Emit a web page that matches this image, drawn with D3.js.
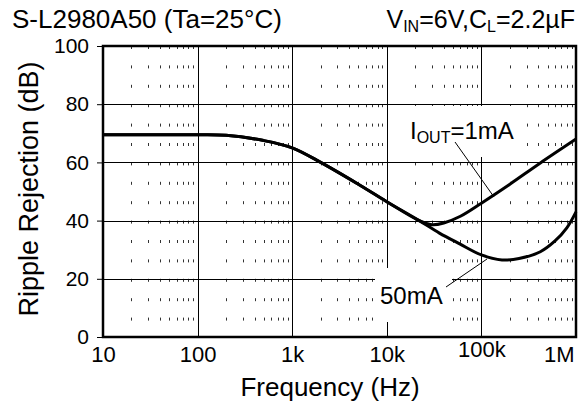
<!DOCTYPE html>
<html>
<head>
<meta charset="utf-8">
<script src="https://cdn.jsdelivr.net/npm/d3@7"></script>
<style>
  html, body { margin: 0; padding: 0; background: #fff; }
  svg { display: block; font-family: "Liberation Sans", Arial, Helvetica, sans-serif; }
</style>
</head>
<body>
<svg id="chart" width="588" height="411"></svg>
<script>
// Ripple rejection vs. frequency, two load currents
const freq1mA = [10, 100, 200, 500, 1000, 2000, 5000, 10000, 22000, 30000, 40000, 60000, 100000, 200000, 420000, 1000000];
const rr1mA   = [69.5, 69.5, 69.3, 67.5, 65, 60, 52.5, 46.5, 40, 38.6, 39.2, 41.5, 46, 52.5, 59.8, 68];

const freq50mA = [10, 100, 200, 500, 1000, 2000, 5000, 10000, 22000, 36000, 59000, 100000, 165000, 250000, 420000, 600000, 800000, 1000000];
const rr50mA   = [69.5, 69.5, 69.3, 67.5, 65, 60, 52.5, 46.5, 40, 35.7, 32, 28.2, 26.5, 27, 29.3, 33, 37.5, 43];

const xTickValues = [10, 100, 1000, 10000, 100000, 1000000];
const xTickLabels = ["10", "100", "1k", "10k", "100k", "1M"];
const yTickValues = [0, 20, 40, 60, 80, 100];

const svg = d3.select("#chart");
const plot = { left: 103, top: 46, right: 576, bottom: 337 };

const x = d3.scaleLog().domain([10, 1e6]).range([plot.left, plot.right]);
const y = d3.scaleLinear().domain([0, 100]).range([plot.bottom, plot.top]);

// minor vertical grid: 2..9 within each decade, drawn as sparse short dashes
const minor = [];
for (let d = 10; d < 1e6; d *= 10) for (let k = 2; k <= 9; k++) minor.push(d * k);
const period = (plot.bottom - plot.top) / 15;
svg.append("g").selectAll("line").data(minor).join("line")
  .attr("x1", d => Math.round(x(d)) + 0.5).attr("x2", d => Math.round(x(d)) + 0.5)
  .attr("y1", plot.top).attr("y2", plot.bottom)
  .attr("stroke", "#333").attr("stroke-width", 1)
  .attr("stroke-dasharray", `3,${(period - 3).toFixed(2)}`);

// major grid
svg.append("g").selectAll("line").data(xTickValues.slice(1, -1)).join("line")
  .attr("x1", d => Math.round(x(d)) + 0.5).attr("x2", d => Math.round(x(d)) + 0.5)
  .attr("y1", plot.top).attr("y2", plot.bottom)
  .attr("stroke", "#000").attr("stroke-width", 1);
svg.append("g").selectAll("line").data(yTickValues.slice(1, -1)).join("line")
  .attr("x1", plot.left).attr("x2", plot.right)
  .attr("y1", d => Math.round(y(d)) + 0.5).attr("y2", d => Math.round(y(d)) + 0.5)
  .attr("stroke", "#000").attr("stroke-width", 1);

// label backgrounds hide the grid underneath
svg.append("rect").attr("x", 392).attr("y", 106).attr("width", 130).attr("height", 51).attr("fill", "#fff");
svg.append("rect").attr("x", 375).attr("y", 268).attr("width", 77).attr("height", 54).attr("fill", "#fff");

// y axis: outward ticks and labels
const yAxis = d3.axisLeft(y).tickValues(yTickValues).tickSize(6).tickPadding(8).tickFormat(d3.format("d"));
const gy = svg.append("g").attr("transform", `translate(${plot.left},0)`).call(yAxis);
gy.select(".domain").remove();
gy.selectAll("line").attr("stroke", "#000");
gy.selectAll("text").attr("font-size", 21).attr("fill", "#000").attr("font-family", null);

// x axis labels
const xAxis = d3.axisBottom(x).tickValues(xTickValues).tickSize(0).tickPadding(9)
  .tickFormat((d, i) => xTickLabels[i]);
const gx = svg.append("g").attr("transform", `translate(0,${plot.bottom})`).call(xAxis);
gx.select(".domain").remove();
gx.selectAll("text").attr("font-size", 22).attr("fill", "#000").attr("font-family", null)
  .attr("dy", (d, i) => xTickLabels[i] === "100k" ? "0.5em" : "0.71em")
  .attr("text-anchor", (d, i) => i === xTickLabels.length - 1 ? "end" : "middle")
  .attr("dx", (d, i) => i === xTickLabels.length - 1 ? -2 : 0);

// curves
const line = d3.line().x(d => x(d[0])).y(d => y(d[1])).curve(d3.curveCatmullRom.alpha(0.5));
svg.append("path").datum(d3.zip(freq50mA, rr50mA)).attr("d", line)
  .attr("fill", "none").attr("stroke", "#000").attr("stroke-width", 3);
svg.append("path").datum(d3.zip(freq1mA, rr1mA)).attr("d", line)
  .attr("fill", "none").attr("stroke", "#000").attr("stroke-width", 3);

// plot frame
svg.append("rect").attr("x", plot.left).attr("y", plot.top)
  .attr("width", plot.right - plot.left).attr("height", plot.bottom - plot.top)
  .attr("fill", "none").attr("stroke", "#000").attr("stroke-width", 2.5);

// leader lines and curve labels
svg.append("line").attr("x1", 455).attr("y1", 142).attr("x2", 494).attr("y2", 197)
  .attr("stroke", "#000").attr("stroke-width", 1);
svg.append("line").attr("x1", 446).attr("y1", 287).attr("x2", 487).attr("y2", 259)
  .attr("stroke", "#000").attr("stroke-width", 1);

const lab1 = svg.append("text").attr("x", 410).attr("y", 139).attr("font-size", 24);
lab1.append("tspan").text("I");
lab1.append("tspan").attr("font-size", 16).attr("dy", 4).text("OUT");
lab1.append("tspan").attr("dy", -4).text("=1mA");

svg.append("text").attr("x", 380).attr("y", 304).attr("font-size", 24).text("50mA");

// title and conditions
svg.append("text").attr("x", 12).attr("y", 28).attr("font-size", 26).text("S-L2980A50 (Ta=25°C)");
const cond = svg.append("text").attr("x", 575).attr("y", 28).attr("font-size", 25).attr("text-anchor", "end");
cond.append("tspan").text("V");
cond.append("tspan").attr("font-size", 16).attr("dy", 4).text("IN");
cond.append("tspan").attr("dy", -4).text("=6V,C");
cond.append("tspan").attr("font-size", 16).attr("dy", 4).text("L");
cond.append("tspan").attr("dy", -4).text("=2.2µF");

// axis titles
svg.append("text").attr("transform", "translate(38,189) rotate(-90)").attr("font-size", 27)
  .attr("text-anchor", "middle").text("Ripple Rejection (dB)");
svg.append("text").attr("x", 330).attr("y", 396).attr("font-size", 26).attr("text-anchor", "middle")
  .text("Frequency (Hz)");
</script>
</body>
</html>
